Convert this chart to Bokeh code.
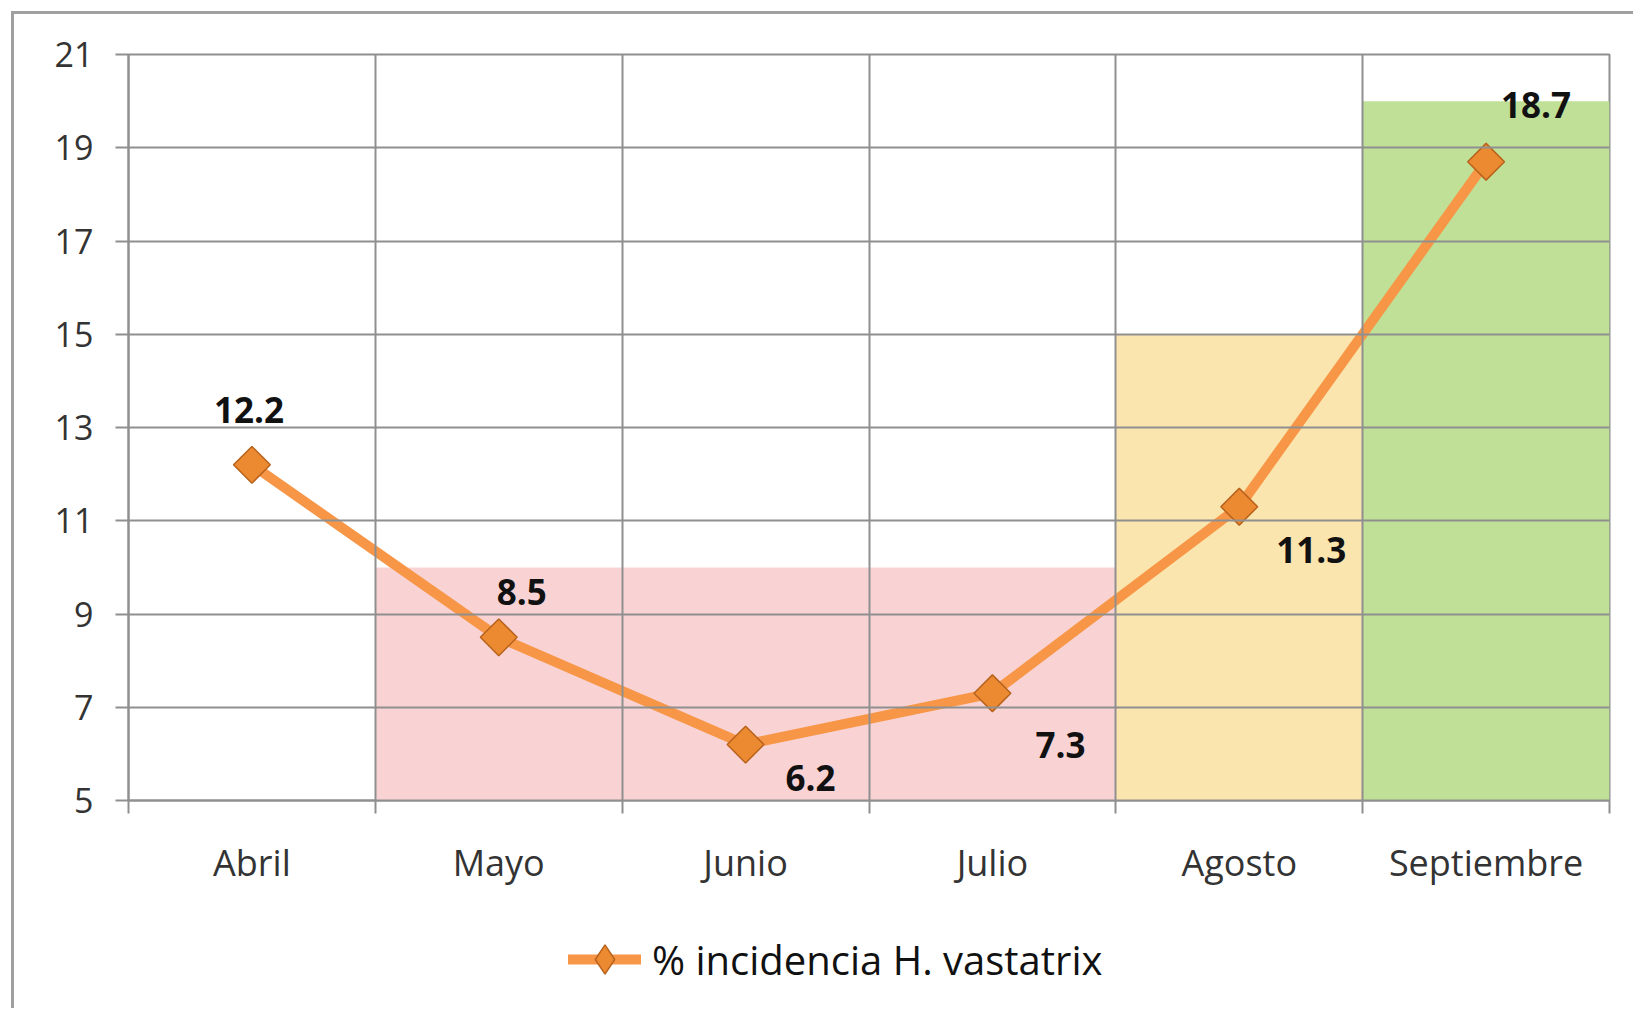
from bokeh.plotting import figure
from bokeh.models import FixedTicker, Range1d, Legend, LegendItem
from bokeh.layouts import column
from bokeh.core.properties import value
from bokeh.embed import file_html
from bokeh.resources import INLINE
import numpy as np

# ---------------- data ----------------
months = ["Abril", "Mayo", "Junio", "Julio", "Agosto", "Septiembre"]
incidence = [12.2, 8.5, 6.2, 7.3, 11.3, 18.7]
y_ticks = [5, 7, 9, 11, 13, 15, 17, 19, 21]
series_name = "% incidencia H. vastatrix"

# background bands (category index span, top value)
band_start = [1, 4, 5]
band_end = [4, 5, 6]
band_top = [10, 15, 20]
band_bottom = [5, 5, 5]

# ---------------- style ----------------
band_colors = ["#F9D3D4", "#FBE5AE", "#BFE096"]
label_dx = [-3, 23, 65, 68, 72, 50]
label_dy = [-55, -45, 33, 52, 43, -57]
GRID = "#8f8f8f"
FONT = "Open Sans"
LINE_COLOR = "#F79646"
MK_FILL = "#EC8A31"
MK_LINE = "#B8621C"

n = len(months)
xc = [i + 0.5 for i in range(n)]
bounds = list(range(n + 1))

p = figure(
    frame_width=1481, frame_height=746,
    min_border_left=128, min_border_right=24, min_border_top=54, min_border_bottom=100,
    x_range=Range1d(0, n), y_range=Range1d(y_ticks[0], y_ticks[-1]),
    output_backend="svg", toolbar_location=None,
)
p.background_fill_color = "white"
p.border_fill_color = None
p.outline_line_color = GRID
p.outline_line_width = 2

# bands
p.quad(left=band_start, right=band_end, bottom=band_bottom, top=band_top,
       fill_color=band_colors, line_color=None, level="underlay")

# grids
p.xgrid.ticker = FixedTicker(ticks=bounds)
p.ygrid.ticker = FixedTicker(ticks=y_ticks)
for g in (p.xgrid, p.ygrid):
    g.grid_line_color = GRID
    g.grid_line_width = 2
    g.level = "glyph"

# axes
xa = p.xaxis[0]
xa.ticker = FixedTicker(ticks=xc, minor_ticks=bounds)
xa.major_label_overrides = {x: m for x, m in zip(xc, months)}
xa.major_tick_out = 0
xa.major_tick_in = 0
xa.minor_tick_out = 13
xa.minor_tick_in = 0
xa.minor_tick_line_color = GRID
xa.minor_tick_line_width = 2
xa.axis_line_color = GRID
xa.axis_line_width = 2
xa.major_label_standoff = 24
xa.major_label_text_font = FONT
xa.major_label_text_font_size = "36px"
xa.major_label_text_color = "#333333"

ya = p.yaxis[0]
ya.ticker = FixedTicker(ticks=y_ticks)
ya.major_tick_out = 13
ya.major_tick_in = 0
ya.minor_tick_out = 0
ya.minor_tick_in = 0
ya.major_tick_line_color = GRID
ya.major_tick_line_width = 2
ya.axis_line_color = GRID
ya.axis_line_width = 2
ya.major_label_standoff = 22
ya.major_label_text_font = FONT
ya.major_label_text_font_size = "34px"
ya.major_label_text_color = "#333333"

# series
p.line(xc, incidence, line_color=LINE_COLOR, line_width=10,
       line_join="round", line_cap="round")
p.scatter(xc, incidence, marker="square", angle=np.pi / 4, size=26,
          fill_color=MK_FILL, line_color=MK_LINE, line_width=1.5)

# data labels
p.text(xc, incidence, text=[f"{v:.1f}" for v in incidence],
       x_offset=label_dx, y_offset=label_dy,
       text_align="center", text_baseline="middle",
       text_font=value(FONT), text_font_style="bold",
       text_font_size="35px", text_color="#111111")

# ---------------- legend strip ----------------
p2 = figure(
    frame_width=1633, frame_height=108,
    min_border_left=0, min_border_right=0, min_border_top=0, min_border_bottom=0,
    x_range=Range1d(100, 101), y_range=Range1d(100, 101),
    x_axis_type=None, y_axis_type=None,
    output_backend="svg", toolbar_location=None,
)
p2.grid.visible = False
p2.background_fill_color = None
p2.border_fill_color = None
p2.outline_line_color = None
ln2 = p2.line(xc, incidence, line_color=LINE_COLOR, line_width=10, line_cap="round")
mk2 = p2.scatter(xc, incidence, marker="diamond", size=30,
                 fill_color=MK_FILL, line_color=MK_LINE, line_width=1.5)
legend = Legend(items=[LegendItem(label=series_name, renderers=[ln2, mk2])],
                location=(568, 9), orientation="horizontal",
                glyph_width=73, glyph_height=80, label_standoff=11,
                padding=0, margin=0, border_line_alpha=0, background_fill_alpha=0,
                label_text_font=FONT, label_text_font_size="40px",
                label_text_color="#111111")
p2.add_layout(legend, "center")

layout = column(p, p2, spacing=0,
                styles={"background-color": "white",
                        "box-shadow": "inset 11px 11px 0 0 white, inset 14px 14px 0 0 #a0a0a0"})

open("out.html", "w").write(file_html(layout, INLINE))
